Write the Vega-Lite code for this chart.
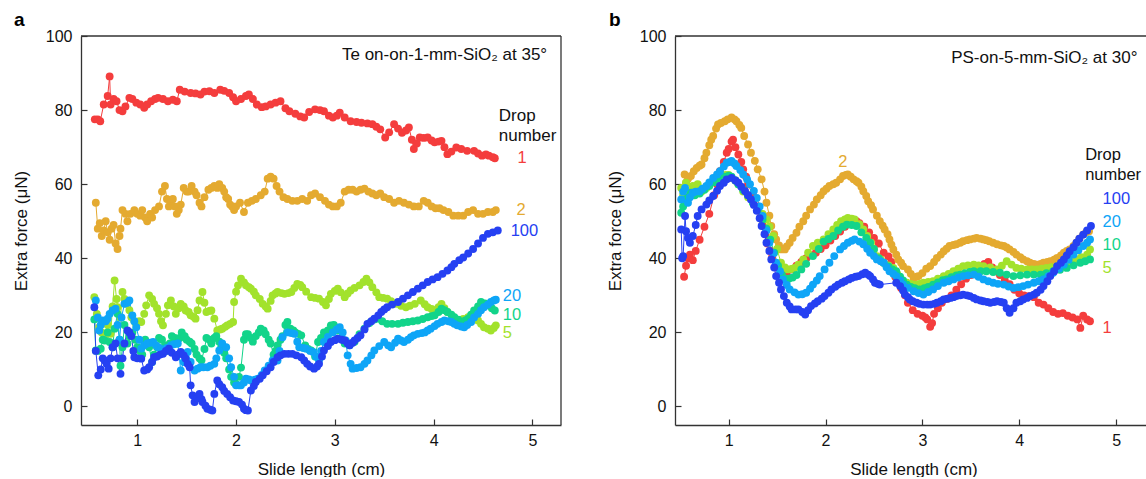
{
"$schema": "https://vega.github.io/schema/vega-lite/v6.json",
"padding": {"left": 12, "top": 11, "right": 0, "bottom": 0},
"spacing": 44,
"config": {
  "font": "Liberation Sans",
  "view": {"stroke": null},
  "axis": {"domainColor": "#333333", "domainWidth": 1.3, "tickColor": "#333333", "tickWidth": 1.2, "tickSize": -6, "labelFontSize": 16, "labelColor": "#111111", "titleFontSize": 17, "titleFontWeight": "normal", "titleColor": "#111111", "grid": false, "labelFlush": false, "labelOverlap": false},
  "axisX": {"labelPadding": 13, "titlePadding": 13},
  "axisY": {"labelPadding": 15, "titlePadding": 15},
  "title": {"anchor": "start", "frame": "group", "fontSize": 19, "fontWeight": "bold", "color": "#000000", "baseline": "alphabetic", "offset": -2}
},
"datasets": {
"a": [
{"s":"1","x":0.57,"y":77.5},{"s":"1","x":0.6,"y":77.5},{"s":"1","x":0.625,"y":77},{"s":"1","x":0.66,"y":81.5},{"s":"1","x":0.7,"y":83.8},{"s":"1","x":0.72,"y":89.1},{"s":"1","x":0.73,"y":81.5},{"s":"1","x":0.76,"y":83},{"s":"1","x":0.79,"y":82.4},{"s":"1","x":0.82,"y":80},{"s":"1","x":0.85,"y":79.7},{"s":"1","x":0.88,"y":81},{"s":"1","x":0.92,"y":83.3},{"s":"1","x":0.95,"y":83},{"s":"1","x":0.99,"y":82},{"s":"1","x":1.03,"y":81.5},{"s":"1","x":1.07,"y":80.6},{"s":"1","x":1.1,"y":81.5},{"s":"1","x":1.14,"y":82.4},{"s":"1","x":1.18,"y":83},{"s":"1","x":1.21,"y":83.3},{"s":"1","x":1.26,"y":83},{"s":"1","x":1.31,"y":82.4},{"s":"1","x":1.36,"y":82.8},{"s":"1","x":1.4,"y":82.4},{"s":"1","x":1.43,"y":85.5},{"s":"1","x":1.48,"y":85},{"s":"1","x":1.54,"y":84.6},{"s":"1","x":1.59,"y":84.5},{"s":"1","x":1.64,"y":84.2},{"s":"1","x":1.68,"y":85},{"s":"1","x":1.73,"y":85.1},{"s":"1","x":1.78,"y":84.6},{"s":"1","x":1.84,"y":85.5},{"s":"1","x":1.88,"y":85.2},{"s":"1","x":1.93,"y":84.6},{"s":"1","x":1.97,"y":83.5},{"s":"1","x":2.0,"y":82.4},{"s":"1","x":2.05,"y":83},{"s":"1","x":2.1,"y":83.8},{"s":"1","x":2.13,"y":84.2},{"s":"1","x":2.17,"y":83},{"s":"1","x":2.21,"y":81.5},{"s":"1","x":2.26,"y":80.8},{"s":"1","x":2.3,"y":81},{"s":"1","x":2.35,"y":81.5},{"s":"1","x":2.4,"y":82},{"s":"1","x":2.45,"y":82.4},{"s":"1","x":2.5,"y":80.5},{"s":"1","x":2.54,"y":79.7},{"s":"1","x":2.6,"y":79},{"s":"1","x":2.65,"y":78.3},{"s":"1","x":2.69,"y":78},{"s":"1","x":2.74,"y":79.5},{"s":"1","x":2.8,"y":80.2},{"s":"1","x":2.85,"y":80},{"s":"1","x":2.89,"y":79.7},{"s":"1","x":2.94,"y":78.5},{"s":"1","x":2.98,"y":78},{"s":"1","x":3.02,"y":78.5},{"s":"1","x":3.05,"y":79.3},{"s":"1","x":3.1,"y":78},{"s":"1","x":3.16,"y":77},{"s":"1","x":3.22,"y":76.8},{"s":"1","x":3.27,"y":76.6},{"s":"1","x":3.33,"y":76.4},{"s":"1","x":3.38,"y":76.2},{"s":"1","x":3.42,"y":75.5},{"s":"1","x":3.46,"y":74.8},{"s":"1","x":3.51,"y":72.6},{"s":"1","x":3.55,"y":74},{"s":"1","x":3.6,"y":76.2},{"s":"1","x":3.64,"y":75},{"s":"1","x":3.68,"y":73.9},{"s":"1","x":3.72,"y":74.5},{"s":"1","x":3.75,"y":75.3},{"s":"1","x":3.78,"y":72},{"s":"1","x":3.8,"y":69.5},{"s":"1","x":3.83,"y":71},{"s":"1","x":3.86,"y":72.6},{"s":"1","x":3.9,"y":72.5},{"s":"1","x":3.94,"y":72.6},{"s":"1","x":3.98,"y":71.8},{"s":"1","x":4.01,"y":71.3},{"s":"1","x":4.05,"y":71.5},{"s":"1","x":4.08,"y":71.7},{"s":"1","x":4.11,"y":70},{"s":"1","x":4.14,"y":68.1},{"s":"1","x":4.18,"y":68.8},{"s":"1","x":4.23,"y":69.9},{"s":"1","x":4.28,"y":69.5},{"s":"1","x":4.34,"y":69},{"s":"1","x":4.41,"y":69},{"s":"1","x":4.45,"y":68.3},{"s":"1","x":4.49,"y":67.7},{"s":"1","x":4.53,"y":68},{"s":"1","x":4.56,"y":67.7},{"s":"1","x":4.6,"y":67.3},{"s":"1","x":4.62,"y":67},
{"s":"2","x":0.58,"y":55},{"s":"2","x":0.6,"y":48},{"s":"2","x":0.62,"y":49.5},{"s":"2","x":0.64,"y":46},{"s":"2","x":0.66,"y":47.5},{"s":"2","x":0.68,"y":50},{"s":"2","x":0.7,"y":47},{"s":"2","x":0.72,"y":45},{"s":"2","x":0.74,"y":48},{"s":"2","x":0.76,"y":49},{"s":"2","x":0.78,"y":44},{"s":"2","x":0.8,"y":42.5},{"s":"2","x":0.82,"y":46},{"s":"2","x":0.83,"y":48},{"s":"2","x":0.85,"y":53},{"s":"2","x":0.88,"y":52},{"s":"2","x":0.9,"y":50},{"s":"2","x":0.93,"y":52},{"s":"2","x":0.97,"y":53},{"s":"2","x":1.0,"y":52},{"s":"2","x":1.03,"y":51.5},{"s":"2","x":1.05,"y":53},{"s":"2","x":1.08,"y":51},{"s":"2","x":1.1,"y":50},{"s":"2","x":1.13,"y":52},{"s":"2","x":1.15,"y":51},{"s":"2","x":1.18,"y":53},{"s":"2","x":1.22,"y":54},{"s":"2","x":1.25,"y":58},{"s":"2","x":1.28,"y":59.5},{"s":"2","x":1.3,"y":56},{"s":"2","x":1.32,"y":54},{"s":"2","x":1.34,"y":55.5},{"s":"2","x":1.36,"y":56},{"s":"2","x":1.38,"y":54},{"s":"2","x":1.4,"y":52},{"s":"2","x":1.42,"y":53},{"s":"2","x":1.44,"y":54.5},{"s":"2","x":1.47,"y":59},{"s":"2","x":1.5,"y":58},{"s":"2","x":1.52,"y":58},{"s":"2","x":1.55,"y":59.5},{"s":"2","x":1.58,"y":58},{"s":"2","x":1.6,"y":57},{"s":"2","x":1.63,"y":55},{"s":"2","x":1.65,"y":54},{"s":"2","x":1.68,"y":56.5},{"s":"2","x":1.72,"y":58.5},{"s":"2","x":1.75,"y":59},{"s":"2","x":1.78,"y":59.5},{"s":"2","x":1.81,"y":59},{"s":"2","x":1.83,"y":60},{"s":"2","x":1.86,"y":59},{"s":"2","x":1.88,"y":58},{"s":"2","x":1.9,"y":56.5},{"s":"2","x":1.92,"y":56},{"s":"2","x":1.94,"y":54.5},{"s":"2","x":1.96,"y":54},{"s":"2","x":1.98,"y":53},{"s":"2","x":2.0,"y":54},{"s":"2","x":2.04,"y":55},{"s":"2","x":2.08,"y":52.5},{"s":"2","x":2.12,"y":55},{"s":"2","x":2.16,"y":55.5},{"s":"2","x":2.2,"y":56},{"s":"2","x":2.25,"y":57},{"s":"2","x":2.29,"y":58},{"s":"2","x":2.32,"y":61.5},{"s":"2","x":2.35,"y":62},{"s":"2","x":2.38,"y":61.5},{"s":"2","x":2.41,"y":59.5},{"s":"2","x":2.44,"y":58},{"s":"2","x":2.48,"y":56.5},{"s":"2","x":2.52,"y":56},{"s":"2","x":2.57,"y":55.5},{"s":"2","x":2.62,"y":55.5},{"s":"2","x":2.67,"y":56},{"s":"2","x":2.72,"y":55.5},{"s":"2","x":2.76,"y":57},{"s":"2","x":2.8,"y":57.5},{"s":"2","x":2.85,"y":56.5},{"s":"2","x":2.9,"y":55.5},{"s":"2","x":2.94,"y":54.5},{"s":"2","x":2.98,"y":54},{"s":"2","x":3.02,"y":54},{"s":"2","x":3.06,"y":55},{"s":"2","x":3.1,"y":58},{"s":"2","x":3.14,"y":58.5},{"s":"2","x":3.18,"y":58.5},{"s":"2","x":3.22,"y":58},{"s":"2","x":3.26,"y":58.5},{"s":"2","x":3.3,"y":58.8},{"s":"2","x":3.34,"y":58},{"s":"2","x":3.38,"y":57.5},{"s":"2","x":3.42,"y":57},{"s":"2","x":3.46,"y":57.5},{"s":"2","x":3.5,"y":56.5},{"s":"2","x":3.55,"y":56},{"s":"2","x":3.6,"y":55},{"s":"2","x":3.65,"y":55.5},{"s":"2","x":3.7,"y":55},{"s":"2","x":3.75,"y":54.5},{"s":"2","x":3.8,"y":54},{"s":"2","x":3.85,"y":54},{"s":"2","x":3.9,"y":55.5},{"s":"2","x":3.94,"y":55},{"s":"2","x":3.98,"y":54},{"s":"2","x":4.02,"y":53.5},{"s":"2","x":4.06,"y":53.5},{"s":"2","x":4.1,"y":53},{"s":"2","x":4.15,"y":52.5},{"s":"2","x":4.2,"y":51.5},{"s":"2","x":4.25,"y":51.5},{"s":"2","x":4.3,"y":51.5},{"s":"2","x":4.35,"y":52.5},{"s":"2","x":4.4,"y":53},{"s":"2","x":4.45,"y":52},{"s":"2","x":4.5,"y":52},{"s":"2","x":4.55,"y":52.5},{"s":"2","x":4.6,"y":52.5},{"s":"2","x":4.63,"y":53},
{"s":"5","x":0.565,"y":29.5},{"s":"5","x":0.59,"y":25},{"s":"5","x":0.615,"y":21.4},{"s":"5","x":0.64,"y":20},{"s":"5","x":0.67,"y":19.2},{"s":"5","x":0.7,"y":22},{"s":"5","x":0.73,"y":19.6},{"s":"5","x":0.75,"y":27},{"s":"5","x":0.77,"y":34},{"s":"5","x":0.79,"y":29},{"s":"5","x":0.8,"y":26.8},{"s":"5","x":0.83,"y":24},{"s":"5","x":0.85,"y":30.9},{"s":"5","x":0.87,"y":29},{"s":"5","x":0.89,"y":27.7},{"s":"5","x":0.92,"y":26},{"s":"5","x":0.94,"y":24.1},{"s":"5","x":0.97,"y":23},{"s":"5","x":0.99,"y":21.9},{"s":"5","x":1.02,"y":23},{"s":"5","x":1.04,"y":22.8},{"s":"5","x":1.07,"y":25},{"s":"5","x":1.09,"y":27.3},{"s":"5","x":1.12,"y":30},{"s":"5","x":1.15,"y":29},{"s":"5","x":1.17,"y":27.7},{"s":"5","x":1.2,"y":26.5},{"s":"5","x":1.22,"y":25},{"s":"5","x":1.24,"y":23},{"s":"5","x":1.26,"y":21.9},{"s":"5","x":1.29,"y":25},{"s":"5","x":1.31,"y":27.3},{"s":"5","x":1.34,"y":28.6},{"s":"5","x":1.37,"y":27},{"s":"5","x":1.39,"y":25},{"s":"5","x":1.42,"y":26.5},{"s":"5","x":1.44,"y":27.7},{"s":"5","x":1.47,"y":27},{"s":"5","x":1.49,"y":25.9},{"s":"5","x":1.52,"y":25.5},{"s":"5","x":1.54,"y":24.6},{"s":"5","x":1.57,"y":24.2},{"s":"5","x":1.59,"y":23.7},{"s":"5","x":1.61,"y":26},{"s":"5","x":1.63,"y":28.6},{"s":"5","x":1.66,"y":30.9},{"s":"5","x":1.68,"y":28},{"s":"5","x":1.7,"y":25.5},{"s":"5","x":1.73,"y":25.8},{"s":"5","x":1.75,"y":25.9},{"s":"5","x":1.78,"y":23.7},{"s":"5","x":1.81,"y":20.5},{"s":"5","x":1.84,"y":20.8},{"s":"5","x":1.86,"y":21},{"s":"5","x":1.89,"y":21.5},{"s":"5","x":1.91,"y":21.9},{"s":"5","x":1.94,"y":22.3},{"s":"5","x":1.97,"y":22.8},{"s":"5","x":1.98,"y":28.2},{"s":"5","x":2.0,"y":31},{"s":"5","x":2.02,"y":32.7},{"s":"5","x":2.05,"y":34.5},{"s":"5","x":2.08,"y":33.5},{"s":"5","x":2.1,"y":32.7},{"s":"5","x":2.13,"y":32.2},{"s":"5","x":2.15,"y":31.8},{"s":"5","x":2.18,"y":31},{"s":"5","x":2.2,"y":30},{"s":"5","x":2.24,"y":29},{"s":"5","x":2.27,"y":27.7},{"s":"5","x":2.3,"y":27},{"s":"5","x":2.32,"y":26.4},{"s":"5","x":2.35,"y":28.5},{"s":"5","x":2.37,"y":30},{"s":"5","x":2.4,"y":30.5},{"s":"5","x":2.42,"y":30.9},{"s":"5","x":2.46,"y":30.6},{"s":"5","x":2.49,"y":30.4},{"s":"5","x":2.53,"y":30.6},{"s":"5","x":2.56,"y":30.9},{"s":"5","x":2.59,"y":32},{"s":"5","x":2.62,"y":33.1},{"s":"5","x":2.65,"y":32.8},{"s":"5","x":2.67,"y":32.2},{"s":"5","x":2.71,"y":31},{"s":"5","x":2.76,"y":29.5},{"s":"5","x":2.8,"y":29.3},{"s":"5","x":2.84,"y":29.1},{"s":"5","x":2.88,"y":28.2},{"s":"5","x":2.91,"y":27.3},{"s":"5","x":2.94,"y":29},{"s":"5","x":2.96,"y":30.4},{"s":"5","x":3.0,"y":31.2},{"s":"5","x":3.03,"y":31.8},{"s":"5","x":3.06,"y":30.8},{"s":"5","x":3.1,"y":29.5},{"s":"5","x":3.13,"y":30.5},{"s":"5","x":3.16,"y":31.3},{"s":"5","x":3.2,"y":32},{"s":"5","x":3.25,"y":32.7},{"s":"5","x":3.29,"y":33.6},{"s":"5","x":3.32,"y":34.5},{"s":"5","x":3.35,"y":33.5},{"s":"5","x":3.38,"y":32.2},{"s":"5","x":3.42,"y":30.8},{"s":"5","x":3.45,"y":29.5},{"s":"5","x":3.49,"y":29.3},{"s":"5","x":3.53,"y":29.1},{"s":"5","x":3.57,"y":28.4},{"s":"5","x":3.62,"y":27.7},{"s":"5","x":3.67,"y":27.2},{"s":"5","x":3.72,"y":26.8},{"s":"5","x":3.76,"y":27.2},{"s":"5","x":3.81,"y":27.7},{"s":"5","x":3.87,"y":28.6},{"s":"5","x":3.91,"y":27.6},{"s":"5","x":3.94,"y":26.8},{"s":"5","x":3.98,"y":26.3},{"s":"5","x":4.01,"y":25.9},{"s":"5","x":4.05,"y":26.8},{"s":"5","x":4.08,"y":27.7},{"s":"5","x":4.11,"y":26.5},{"s":"5","x":4.14,"y":25.5},{"s":"5","x":4.19,"y":24.3},{"s":"5","x":4.24,"y":23.2},{"s":"5","x":4.3,"y":23.6},{"s":"5","x":4.35,"y":24.1},{"s":"5","x":4.4,"y":23.6},{"s":"5","x":4.45,"y":23.2},{"s":"5","x":4.48,"y":22.3},{"s":"5","x":4.51,"y":21.4},{"s":"5","x":4.55,"y":21},{"s":"5","x":4.58,"y":20.5},{"s":"5","x":4.61,"y":21.2},{"s":"5","x":4.63,"y":21.9},
{"s":"10","x":0.565,"y":23.5},{"s":"10","x":0.58,"y":15.1},{"s":"10","x":0.6,"y":15},{"s":"10","x":0.63,"y":15.6},{"s":"10","x":0.65,"y":18},{"s":"10","x":0.67,"y":17.8},{"s":"10","x":0.7,"y":20},{"s":"10","x":0.72,"y":17.4},{"s":"10","x":0.75,"y":16},{"s":"10","x":0.77,"y":21},{"s":"10","x":0.8,"y":25},{"s":"10","x":0.82,"y":18},{"s":"10","x":0.83,"y":11},{"s":"10","x":0.85,"y":16},{"s":"10","x":0.87,"y":22},{"s":"10","x":0.9,"y":17},{"s":"10","x":0.92,"y":19},{"s":"10","x":0.95,"y":20},{"s":"10","x":0.98,"y":18},{"s":"10","x":1.0,"y":16},{"s":"10","x":1.03,"y":15},{"s":"10","x":1.05,"y":14},{"s":"10","x":1.08,"y":18},{"s":"10","x":1.1,"y":17},{"s":"10","x":1.12,"y":16},{"s":"10","x":1.15,"y":12},{"s":"10","x":1.17,"y":14},{"s":"10","x":1.2,"y":16},{"s":"10","x":1.22,"y":18.5},{"s":"10","x":1.25,"y":18},{"s":"10","x":1.28,"y":16.5},{"s":"10","x":1.3,"y":15},{"s":"10","x":1.33,"y":17},{"s":"10","x":1.35,"y":19},{"s":"10","x":1.38,"y":18.5},{"s":"10","x":1.4,"y":17},{"s":"10","x":1.43,"y":18.5},{"s":"10","x":1.45,"y":20},{"s":"10","x":1.48,"y":19},{"s":"10","x":1.5,"y":18},{"s":"10","x":1.53,"y":17.5},{"s":"10","x":1.55,"y":17},{"s":"10","x":1.58,"y":15.5},{"s":"10","x":1.6,"y":14},{"s":"10","x":1.63,"y":13},{"s":"10","x":1.65,"y":12.5},{"s":"10","x":1.68,"y":15.5},{"s":"10","x":1.7,"y":18.5},{"s":"10","x":1.73,"y":18},{"s":"10","x":1.75,"y":17},{"s":"10","x":1.78,"y":18.5},{"s":"10","x":1.8,"y":19},{"s":"10","x":1.83,"y":17.5},{"s":"10","x":1.85,"y":16},{"s":"10","x":1.88,"y":14.5},{"s":"10","x":1.9,"y":13},{"s":"10","x":1.93,"y":10},{"s":"10","x":1.95,"y":8},{"s":"10","x":1.98,"y":6.5},{"s":"10","x":2.0,"y":6},{"s":"10","x":2.03,"y":8},{"s":"10","x":2.05,"y":10.5},{"s":"10","x":2.08,"y":18},{"s":"10","x":2.1,"y":19.5},{"s":"10","x":2.12,"y":19.5},{"s":"10","x":2.15,"y":18.5},{"s":"10","x":2.17,"y":17.5},{"s":"10","x":2.2,"y":19},{"s":"10","x":2.23,"y":20},{"s":"10","x":2.25,"y":21},{"s":"10","x":2.28,"y":20.5},{"s":"10","x":2.3,"y":19.5},{"s":"10","x":2.33,"y":18},{"s":"10","x":2.35,"y":17},{"s":"10","x":2.38,"y":14},{"s":"10","x":2.4,"y":15},{"s":"10","x":2.42,"y":16.5},{"s":"10","x":2.45,"y":18},{"s":"10","x":2.47,"y":19},{"s":"10","x":2.5,"y":22},{"s":"10","x":2.52,"y":22.8},{"s":"10","x":2.55,"y":21},{"s":"10","x":2.58,"y":20.5},{"s":"10","x":2.6,"y":20},{"s":"10","x":2.63,"y":19.6},{"s":"10","x":2.66,"y":19.2},{"s":"10","x":2.7,"y":16.5},{"s":"10","x":2.73,"y":15.5},{"s":"10","x":2.76,"y":15.1},{"s":"10","x":2.8,"y":13.5},{"s":"10","x":2.83,"y":17.4},{"s":"10","x":2.86,"y":18.5},{"s":"10","x":2.89,"y":20},{"s":"10","x":2.93,"y":20.5},{"s":"10","x":2.96,"y":21.9},{"s":"10","x":2.99,"y":22},{"s":"10","x":3.03,"y":20.5},{"s":"10","x":3.07,"y":18.5},{"s":"10","x":3.1,"y":17},{"s":"10","x":3.15,"y":16.5},{"s":"10","x":3.2,"y":17.5},{"s":"10","x":3.25,"y":19.5},{"s":"10","x":3.3,"y":21},{"s":"10","x":3.35,"y":22.5},{"s":"10","x":3.4,"y":23.5},{"s":"10","x":3.43,"y":23.7},{"s":"10","x":3.48,"y":23},{"s":"10","x":3.53,"y":22.3},{"s":"10","x":3.58,"y":22.3},{"s":"10","x":3.64,"y":22.3},{"s":"10","x":3.69,"y":22.6},{"s":"10","x":3.74,"y":22.8},{"s":"10","x":3.79,"y":23},{"s":"10","x":3.84,"y":23.2},{"s":"10","x":3.89,"y":23.6},{"s":"10","x":3.94,"y":24.1},{"s":"10","x":3.98,"y":24.4},{"s":"10","x":4.01,"y":24.6},{"s":"10","x":4.05,"y":25.5},{"s":"10","x":4.08,"y":26.4},{"s":"10","x":4.11,"y":26},{"s":"10","x":4.14,"y":25.5},{"s":"10","x":4.18,"y":24.8},{"s":"10","x":4.21,"y":24.1},{"s":"10","x":4.25,"y":23.4},{"s":"10","x":4.28,"y":22.8},{"s":"10","x":4.32,"y":23.2},{"s":"10","x":4.35,"y":23.7},{"s":"10","x":4.38,"y":24.8},{"s":"10","x":4.41,"y":25.9},{"s":"10","x":4.45,"y":27},{"s":"10","x":4.48,"y":28.2},{"s":"10","x":4.52,"y":27.8},{"s":"10","x":4.55,"y":27.3},{"s":"10","x":4.59,"y":26.5},{"s":"10","x":4.62,"y":25.9},
{"s":"20","x":0.58,"y":28.6},{"s":"20","x":0.6,"y":24},{"s":"20","x":0.615,"y":20.5},{"s":"20","x":0.63,"y":22},{"s":"20","x":0.65,"y":23.2},{"s":"20","x":0.68,"y":23},{"s":"20","x":0.7,"y":23.7},{"s":"20","x":0.72,"y":25},{"s":"20","x":0.75,"y":25.9},{"s":"20","x":0.78,"y":26.4},{"s":"20","x":0.8,"y":22},{"s":"20","x":0.82,"y":18},{"s":"20","x":0.84,"y":24},{"s":"20","x":0.87,"y":27.7},{"s":"20","x":0.9,"y":28},{"s":"20","x":0.92,"y":28.6},{"s":"20","x":0.95,"y":24.6},{"s":"20","x":0.97,"y":23},{"s":"20","x":0.99,"y":21.4},{"s":"20","x":1.02,"y":18},{"s":"20","x":1.04,"y":15.6},{"s":"20","x":1.07,"y":16.5},{"s":"20","x":1.1,"y":17},{"s":"20","x":1.13,"y":17.2},{"s":"20","x":1.16,"y":17.4},{"s":"20","x":1.19,"y":16.5},{"s":"20","x":1.21,"y":16},{"s":"20","x":1.24,"y":15.5},{"s":"20","x":1.27,"y":15.1},{"s":"20","x":1.3,"y":15.8},{"s":"20","x":1.34,"y":16.5},{"s":"20","x":1.37,"y":16.8},{"s":"20","x":1.41,"y":17},{"s":"20","x":1.44,"y":9.7},{"s":"20","x":1.47,"y":12},{"s":"20","x":1.51,"y":14.7},{"s":"20","x":1.54,"y":12},{"s":"20","x":1.58,"y":9.7},{"s":"20","x":1.61,"y":10.2},{"s":"20","x":1.64,"y":10.6},{"s":"20","x":1.67,"y":10.6},{"s":"20","x":1.71,"y":10.6},{"s":"20","x":1.74,"y":11},{"s":"20","x":1.78,"y":11.5},{"s":"20","x":1.8,"y":13},{"s":"20","x":1.83,"y":15.1},{"s":"20","x":1.86,"y":17},{"s":"20","x":1.9,"y":16},{"s":"20","x":1.93,"y":13},{"s":"20","x":1.95,"y":10.6},{"s":"20","x":1.98,"y":8},{"s":"20","x":2.0,"y":5.7},{"s":"20","x":2.03,"y":5.7},{"s":"20","x":2.05,"y":5.7},{"s":"20","x":2.08,"y":6.5},{"s":"20","x":2.1,"y":7.5},{"s":"20","x":2.13,"y":7.3},{"s":"20","x":2.15,"y":7},{"s":"20","x":2.19,"y":7.2},{"s":"20","x":2.22,"y":7.5},{"s":"20","x":2.26,"y":8.5},{"s":"20","x":2.29,"y":9.7},{"s":"20","x":2.33,"y":11},{"s":"20","x":2.37,"y":12.4},{"s":"20","x":2.42,"y":12.4},{"s":"20","x":2.44,"y":15},{"s":"20","x":2.47,"y":18.7},{"s":"20","x":2.52,"y":20},{"s":"20","x":2.56,"y":19.8},{"s":"20","x":2.59,"y":19.6},{"s":"20","x":2.62,"y":17.5},{"s":"20","x":2.64,"y":16},{"s":"20","x":2.68,"y":15.8},{"s":"20","x":2.71,"y":15.6},{"s":"20","x":2.75,"y":15},{"s":"20","x":2.78,"y":14.7},{"s":"20","x":2.81,"y":13.5},{"s":"20","x":2.84,"y":12.4},{"s":"20","x":2.86,"y":15},{"s":"20","x":2.89,"y":17.4},{"s":"20","x":2.93,"y":18.8},{"s":"20","x":2.98,"y":20},{"s":"20","x":3.02,"y":20.8},{"s":"20","x":3.05,"y":21.4},{"s":"20","x":3.08,"y":20},{"s":"20","x":3.11,"y":17.8},{"s":"20","x":3.13,"y":13.8},{"s":"20","x":3.16,"y":11.5},{"s":"20","x":3.18,"y":10.2},{"s":"20","x":3.22,"y":10.4},{"s":"20","x":3.26,"y":10.6},{"s":"20","x":3.3,"y":11.5},{"s":"20","x":3.33,"y":12.4},{"s":"20","x":3.37,"y":13.8},{"s":"20","x":3.4,"y":15.1},{"s":"20","x":3.45,"y":16.3},{"s":"20","x":3.5,"y":17.4},{"s":"20","x":3.54,"y":16.5},{"s":"20","x":3.57,"y":16},{"s":"20","x":3.61,"y":17.2},{"s":"20","x":3.64,"y":18.3},{"s":"20","x":3.67,"y":17.8},{"s":"20","x":3.7,"y":17.4},{"s":"20","x":3.74,"y":18},{"s":"20","x":3.77,"y":18.7},{"s":"20","x":3.8,"y":19.2},{"s":"20","x":3.84,"y":19.6},{"s":"20","x":3.88,"y":19.8},{"s":"20","x":3.91,"y":20},{"s":"20","x":3.94,"y":20.5},{"s":"20","x":3.97,"y":21},{"s":"20","x":4.01,"y":21.7},{"s":"20","x":4.04,"y":22.3},{"s":"20","x":4.08,"y":22.8},{"s":"20","x":4.11,"y":23.2},{"s":"20","x":4.15,"y":23},{"s":"20","x":4.18,"y":22.8},{"s":"20","x":4.21,"y":22.3},{"s":"20","x":4.24,"y":21.9},{"s":"20","x":4.28,"y":21.6},{"s":"20","x":4.31,"y":21.4},{"s":"20","x":4.34,"y":22},{"s":"20","x":4.38,"y":22.8},{"s":"20","x":4.41,"y":24},{"s":"20","x":4.45,"y":25},{"s":"20","x":4.48,"y":26},{"s":"20","x":4.51,"y":26.8},{"s":"20","x":4.55,"y":27.5},{"s":"20","x":4.58,"y":28.2},{"s":"20","x":4.61,"y":28.6},{"s":"20","x":4.63,"y":28.8},
{"s":"100","x":0.565,"y":26.8},{"s":"100","x":0.58,"y":15},{"s":"100","x":0.605,"y":8.4},{"s":"100","x":0.63,"y":10},{"s":"100","x":0.65,"y":13},{"s":"100","x":0.67,"y":12.4},{"s":"100","x":0.69,"y":11.5},{"s":"100","x":0.71,"y":10.2},{"s":"100","x":0.73,"y":13},{"s":"100","x":0.75,"y":16},{"s":"100","x":0.78,"y":17},{"s":"100","x":0.8,"y":13},{"s":"100","x":0.83,"y":8.8},{"s":"100","x":0.85,"y":13},{"s":"100","x":0.87,"y":17},{"s":"100","x":0.9,"y":20.5},{"s":"100","x":0.92,"y":20},{"s":"100","x":0.94,"y":19},{"s":"100","x":0.96,"y":15},{"s":"100","x":0.97,"y":13.3},{"s":"100","x":1.0,"y":13},{"s":"100","x":1.04,"y":12.9},{"s":"100","x":1.07,"y":9.7},{"s":"100","x":1.1,"y":10},{"s":"100","x":1.12,"y":10.6},{"s":"100","x":1.15,"y":12},{"s":"100","x":1.17,"y":13.3},{"s":"100","x":1.2,"y":13.5},{"s":"100","x":1.23,"y":14},{"s":"100","x":1.26,"y":14.2},{"s":"100","x":1.29,"y":15},{"s":"100","x":1.32,"y":15.6},{"s":"100","x":1.35,"y":14.5},{"s":"100","x":1.39,"y":13.3},{"s":"100","x":1.41,"y":14},{"s":"100","x":1.44,"y":14.7},{"s":"100","x":1.47,"y":13.8},{"s":"100","x":1.49,"y":12.9},{"s":"100","x":1.51,"y":11.5},{"s":"100","x":1.53,"y":10.6},{"s":"100","x":1.54,"y":5.7},{"s":"100","x":1.56,"y":3},{"s":"100","x":1.58,"y":1.2},{"s":"100","x":1.61,"y":2.2},{"s":"100","x":1.63,"y":3.4},{"s":"100","x":1.65,"y":2},{"s":"100","x":1.66,"y":1.2},{"s":"100","x":1.69,"y":0.2},{"s":"100","x":1.71,"y":-0.6},{"s":"100","x":1.74,"y":-0.9},{"s":"100","x":1.76,"y":-1.1},{"s":"100","x":1.78,"y":3.4},{"s":"100","x":1.81,"y":7},{"s":"100","x":1.83,"y":6},{"s":"100","x":1.86,"y":5.2},{"s":"100","x":1.88,"y":4.2},{"s":"100","x":1.91,"y":3.4},{"s":"100","x":1.94,"y":2.5},{"s":"100","x":1.97,"y":1.6},{"s":"100","x":2.0,"y":1.4},{"s":"100","x":2.03,"y":1.2},{"s":"100","x":2.06,"y":0.5},{"s":"100","x":2.08,"y":-0.6},{"s":"100","x":2.1,"y":-1},{"s":"100","x":2.12,"y":-1.1},{"s":"100","x":2.15,"y":4.3},{"s":"100","x":2.18,"y":5.5},{"s":"100","x":2.2,"y":6.6},{"s":"100","x":2.24,"y":7.5},{"s":"100","x":2.27,"y":8.4},{"s":"100","x":2.31,"y":9.5},{"s":"100","x":2.35,"y":10.6},{"s":"100","x":2.38,"y":12},{"s":"100","x":2.42,"y":13.3},{"s":"100","x":2.45,"y":13.8},{"s":"100","x":2.49,"y":14.2},{"s":"100","x":2.53,"y":14.2},{"s":"100","x":2.57,"y":14.2},{"s":"100","x":2.61,"y":13.8},{"s":"100","x":2.66,"y":13.3},{"s":"100","x":2.69,"y":12.4},{"s":"100","x":2.72,"y":11.5},{"s":"100","x":2.75,"y":10.8},{"s":"100","x":2.79,"y":10.2},{"s":"100","x":2.82,"y":10.8},{"s":"100","x":2.84,"y":11.5},{"s":"100","x":2.87,"y":13.5},{"s":"100","x":2.89,"y":15.1},{"s":"100","x":2.93,"y":16.3},{"s":"100","x":2.96,"y":17.4},{"s":"100","x":3.0,"y":17.9},{"s":"100","x":3.03,"y":18.3},{"s":"100","x":3.07,"y":18},{"s":"100","x":3.1,"y":17.8},{"s":"100","x":3.13,"y":17},{"s":"100","x":3.15,"y":16.5},{"s":"100","x":3.18,"y":17.2},{"s":"100","x":3.2,"y":17.8},{"s":"100","x":3.23,"y":18.5},{"s":"100","x":3.26,"y":19.2},{"s":"100","x":3.3,"y":20.8},{"s":"100","x":3.33,"y":22.3},{"s":"100","x":3.37,"y":23},{"s":"100","x":3.4,"y":23.7},{"s":"100","x":3.44,"y":24.6},{"s":"100","x":3.47,"y":25.5},{"s":"100","x":3.5,"y":26.2},{"s":"100","x":3.53,"y":26.8},{"s":"100","x":3.58,"y":27.5},{"s":"100","x":3.64,"y":28.2},{"s":"100","x":3.69,"y":29.1},{"s":"100","x":3.74,"y":30},{"s":"100","x":3.79,"y":30.9},{"s":"100","x":3.84,"y":31.8},{"s":"100","x":3.89,"y":32.7},{"s":"100","x":3.94,"y":33.6},{"s":"100","x":3.99,"y":34.3},{"s":"100","x":4.04,"y":34.9},{"s":"100","x":4.09,"y":35.8},{"s":"100","x":4.14,"y":36.7},{"s":"100","x":4.18,"y":37.6},{"s":"100","x":4.21,"y":38.5},{"s":"100","x":4.26,"y":39.5},{"s":"100","x":4.3,"y":40.2},{"s":"100","x":4.35,"y":41.3},{"s":"100","x":4.4,"y":42.5},{"s":"100","x":4.45,"y":44},{"s":"100","x":4.5,"y":45.5},{"s":"100","x":4.55,"y":46.6},{"s":"100","x":4.6,"y":47},{"s":"100","x":4.65,"y":47.5}
],
"b": [
{"s":"1","x":0.54,"y":35},{"s":"1","x":0.56,"y":38},{"s":"1","x":0.58,"y":40},{"s":"1","x":0.6,"y":41},{"s":"1","x":0.63,"y":39.5},{"s":"1","x":0.66,"y":42},{"s":"1","x":0.7,"y":45},{"s":"1","x":0.75,"y":48.5},{"s":"1","x":0.8,"y":52},{"s":"1","x":0.85,"y":57},{"s":"1","x":0.88,"y":60},{"s":"1","x":0.91,"y":63.5},{"s":"1","x":0.95,"y":66},{"s":"1","x":0.98,"y":68.5},{"s":"1","x":1.0,"y":69.5},{"s":"1","x":1.03,"y":71.5},{"s":"1","x":1.045,"y":72},{"s":"1","x":1.07,"y":70},{"s":"1","x":1.1,"y":68},{"s":"1","x":1.13,"y":66},{"s":"1","x":1.15,"y":64},{"s":"1","x":1.18,"y":62},{"s":"1","x":1.2,"y":60},{"s":"1","x":1.25,"y":57},{"s":"1","x":1.3,"y":54},{"s":"1","x":1.33,"y":51},{"s":"1","x":1.35,"y":49},{"s":"1","x":1.38,"y":46.5},{"s":"1","x":1.4,"y":44},{"s":"1","x":1.43,"y":42},{"s":"1","x":1.45,"y":40.5},{"s":"1","x":1.5,"y":37.5},{"s":"1","x":1.55,"y":36},{"s":"1","x":1.6,"y":35.5},{"s":"1","x":1.65,"y":37},{"s":"1","x":1.7,"y":38},{"s":"1","x":1.75,"y":39},{"s":"1","x":1.8,"y":40},{"s":"1","x":1.85,"y":40.8},{"s":"1","x":1.9,"y":41.5},{"s":"1","x":1.95,"y":42.5},{"s":"1","x":2.0,"y":43.5},{"s":"1","x":2.05,"y":44.8},{"s":"1","x":2.1,"y":46},{"s":"1","x":2.15,"y":47.2},{"s":"1","x":2.2,"y":48.5},{"s":"1","x":2.25,"y":49.5},{"s":"1","x":2.28,"y":50},{"s":"1","x":2.32,"y":50},{"s":"1","x":2.35,"y":49.5},{"s":"1","x":2.4,"y":48.5},{"s":"1","x":2.45,"y":47},{"s":"1","x":2.5,"y":45.5},{"s":"1","x":2.55,"y":44},{"s":"1","x":2.6,"y":41.5},{"s":"1","x":2.65,"y":40.5},{"s":"1","x":2.68,"y":39},{"s":"1","x":2.72,"y":35},{"s":"1","x":2.75,"y":33.5},{"s":"1","x":2.78,"y":32},{"s":"1","x":2.82,"y":30},{"s":"1","x":2.85,"y":28},{"s":"1","x":2.9,"y":26},{"s":"1","x":2.95,"y":25},{"s":"1","x":3.0,"y":24.5},{"s":"1","x":3.03,"y":24},{"s":"1","x":3.05,"y":23.5},{"s":"1","x":3.08,"y":21.5},{"s":"1","x":3.1,"y":22.5},{"s":"1","x":3.12,"y":25},{"s":"1","x":3.16,"y":26.5},{"s":"1","x":3.2,"y":28},{"s":"1","x":3.25,"y":29},{"s":"1","x":3.3,"y":30},{"s":"1","x":3.35,"y":31.5},{"s":"1","x":3.4,"y":33},{"s":"1","x":3.45,"y":34.5},{"s":"1","x":3.5,"y":35.5},{"s":"1","x":3.55,"y":36.5},{"s":"1","x":3.6,"y":37.5},{"s":"1","x":3.64,"y":38.5},{"s":"1","x":3.68,"y":39},{"s":"1","x":3.72,"y":37.5},{"s":"1","x":3.75,"y":36.5},{"s":"1","x":3.8,"y":35.5},{"s":"1","x":3.85,"y":34},{"s":"1","x":3.9,"y":33},{"s":"1","x":3.95,"y":31.5},{"s":"1","x":4.0,"y":30.5},{"s":"1","x":4.05,"y":30},{"s":"1","x":4.1,"y":29.8},{"s":"1","x":4.15,"y":29.5},{"s":"1","x":4.2,"y":28},{"s":"1","x":4.25,"y":27.5},{"s":"1","x":4.3,"y":26.5},{"s":"1","x":4.35,"y":25.5},{"s":"1","x":4.4,"y":25},{"s":"1","x":4.45,"y":25.2},{"s":"1","x":4.5,"y":24.5},{"s":"1","x":4.55,"y":24},{"s":"1","x":4.6,"y":23.5},{"s":"1","x":4.63,"y":21.2},{"s":"1","x":4.66,"y":24.5},{"s":"1","x":4.7,"y":23.5},{"s":"1","x":4.73,"y":23},
{"s":"2","x":0.545,"y":62.6},{"s":"2","x":0.56,"y":60.4},{"s":"2","x":0.58,"y":61.5},{"s":"2","x":0.61,"y":62.2},{"s":"2","x":0.64,"y":63.5},{"s":"2","x":0.67,"y":64.4},{"s":"2","x":0.7,"y":65},{"s":"2","x":0.72,"y":65.3},{"s":"2","x":0.75,"y":67},{"s":"2","x":0.77,"y":68.5},{"s":"2","x":0.8,"y":70.5},{"s":"2","x":0.82,"y":72},{"s":"2","x":0.84,"y":73},{"s":"2","x":0.87,"y":75},{"s":"2","x":0.89,"y":76.1},{"s":"2","x":0.92,"y":76.5},{"s":"2","x":0.96,"y":77},{"s":"2","x":0.99,"y":77.5},{"s":"2","x":1.03,"y":78},{"s":"2","x":1.06,"y":77.5},{"s":"2","x":1.08,"y":77},{"s":"2","x":1.11,"y":76},{"s":"2","x":1.13,"y":75.2},{"s":"2","x":1.16,"y":73},{"s":"2","x":1.2,"y":70.7},{"s":"2","x":1.23,"y":68.5},{"s":"2","x":1.27,"y":66.3},{"s":"2","x":1.3,"y":64},{"s":"2","x":1.34,"y":61.3},{"s":"2","x":1.37,"y":58},{"s":"2","x":1.39,"y":55},{"s":"2","x":1.42,"y":51.5},{"s":"2","x":1.44,"y":48.7},{"s":"2","x":1.47,"y":46.5},{"s":"2","x":1.49,"y":45.1},{"s":"2","x":1.52,"y":43.5},{"s":"2","x":1.54,"y":42.4},{"s":"2","x":1.58,"y":42.4},{"s":"2","x":1.6,"y":43.2},{"s":"2","x":1.63,"y":44.2},{"s":"2","x":1.66,"y":45.5},{"s":"2","x":1.7,"y":46.9},{"s":"2","x":1.73,"y":48.5},{"s":"2","x":1.77,"y":50},{"s":"2","x":1.8,"y":51.5},{"s":"2","x":1.84,"y":53.2},{"s":"2","x":1.88,"y":54.5},{"s":"2","x":1.91,"y":55.9},{"s":"2","x":1.95,"y":57},{"s":"2","x":1.98,"y":58.1},{"s":"2","x":2.01,"y":58.8},{"s":"2","x":2.04,"y":59.5},{"s":"2","x":2.08,"y":60},{"s":"2","x":2.11,"y":60.4},{"s":"2","x":2.15,"y":61.3},{"s":"2","x":2.18,"y":62.2},{"s":"2","x":2.21,"y":62.5},{"s":"2","x":2.23,"y":62.6},{"s":"2","x":2.26,"y":62},{"s":"2","x":2.29,"y":61.3},{"s":"2","x":2.32,"y":60.8},{"s":"2","x":2.34,"y":60.4},{"s":"2","x":2.37,"y":59.3},{"s":"2","x":2.39,"y":58.1},{"s":"2","x":2.42,"y":56.8},{"s":"2","x":2.44,"y":55.4},{"s":"2","x":2.47,"y":54.3},{"s":"2","x":2.49,"y":53.2},{"s":"2","x":2.53,"y":51.5},{"s":"2","x":2.56,"y":50},{"s":"2","x":2.59,"y":48.8},{"s":"2","x":2.61,"y":47.8},{"s":"2","x":2.64,"y":46.5},{"s":"2","x":2.66,"y":45.1},{"s":"2","x":2.68,"y":43.7},{"s":"2","x":2.7,"y":42.4},{"s":"2","x":2.73,"y":41},{"s":"2","x":2.75,"y":39.7},{"s":"2","x":2.78,"y":38.8},{"s":"2","x":2.8,"y":37.9},{"s":"2","x":2.85,"y":37},{"s":"2","x":2.88,"y":35.8},{"s":"2","x":2.91,"y":34.7},{"s":"2","x":2.94,"y":35},{"s":"2","x":2.96,"y":35.2},{"s":"2","x":3.0,"y":36},{"s":"2","x":3.04,"y":37.2},{"s":"2","x":3.08,"y":37.9},{"s":"2","x":3.12,"y":39},{"s":"2","x":3.15,"y":40.1},{"s":"2","x":3.19,"y":41},{"s":"2","x":3.22,"y":41.9},{"s":"2","x":3.25,"y":42.6},{"s":"2","x":3.28,"y":43.3},{"s":"2","x":3.32,"y":43.6},{"s":"2","x":3.35,"y":43.8},{"s":"2","x":3.39,"y":44.2},{"s":"2","x":3.42,"y":44.6},{"s":"2","x":3.46,"y":44.9},{"s":"2","x":3.49,"y":45.1},{"s":"2","x":3.53,"y":45.3},{"s":"2","x":3.56,"y":45.5},{"s":"2","x":3.6,"y":45.3},{"s":"2","x":3.63,"y":45.1},{"s":"2","x":3.66,"y":44.9},{"s":"2","x":3.69,"y":44.6},{"s":"2","x":3.73,"y":44.2},{"s":"2","x":3.77,"y":43.8},{"s":"2","x":3.81,"y":43.5},{"s":"2","x":3.84,"y":43.3},{"s":"2","x":3.87,"y":42.9},{"s":"2","x":3.9,"y":42.4},{"s":"2","x":3.94,"y":41.7},{"s":"2","x":3.97,"y":41},{"s":"2","x":4.01,"y":40.3},{"s":"2","x":4.04,"y":39.7},{"s":"2","x":4.08,"y":39.2},{"s":"2","x":4.11,"y":38.8},{"s":"2","x":4.15,"y":38.5},{"s":"2","x":4.18,"y":38.3},{"s":"2","x":4.22,"y":38.5},{"s":"2","x":4.25,"y":38.8},{"s":"2","x":4.29,"y":39},{"s":"2","x":4.32,"y":39.2},{"s":"2","x":4.36,"y":39.6},{"s":"2","x":4.39,"y":40.1},{"s":"2","x":4.43,"y":40.8},{"s":"2","x":4.46,"y":41.5},{"s":"2","x":4.49,"y":42},{"s":"2","x":4.52,"y":42.4},{"s":"2","x":4.56,"y":43.3},{"s":"2","x":4.59,"y":44.2},{"s":"2","x":4.62,"y":45.3},{"s":"2","x":4.66,"y":46.4},{"s":"2","x":4.69,"y":47},{"s":"2","x":4.72,"y":47.3},
{"s":"5","x":0.51,"y":59},{"s":"5","x":0.53,"y":57},{"s":"5","x":0.56,"y":60.4},{"s":"5","x":0.6,"y":58},{"s":"5","x":0.63,"y":59.5},{"s":"5","x":0.68,"y":60},{"s":"5","x":0.72,"y":58},{"s":"5","x":0.77,"y":59},{"s":"5","x":0.82,"y":60.5},{"s":"5","x":0.87,"y":61.5},{"s":"5","x":0.92,"y":62},{"s":"5","x":0.97,"y":62.5},{"s":"5","x":1.0,"y":62.5},{"s":"5","x":1.03,"y":61.7},{"s":"5","x":1.07,"y":61},{"s":"5","x":1.1,"y":60},{"s":"5","x":1.15,"y":58},{"s":"5","x":1.2,"y":56.5},{"s":"5","x":1.25,"y":55},{"s":"5","x":1.3,"y":53.5},{"s":"5","x":1.35,"y":52},{"s":"5","x":1.39,"y":50.5},{"s":"5","x":1.42,"y":48.5},{"s":"5","x":1.46,"y":46},{"s":"5","x":1.5,"y":42.5},{"s":"5","x":1.54,"y":38.8},{"s":"5","x":1.58,"y":37.5},{"s":"5","x":1.61,"y":37},{"s":"5","x":1.65,"y":37.1},{"s":"5","x":1.68,"y":37.4},{"s":"5","x":1.72,"y":38.3},{"s":"5","x":1.77,"y":39.7},{"s":"5","x":1.82,"y":41.5},{"s":"5","x":1.87,"y":43.3},{"s":"5","x":1.92,"y":44.2},{"s":"5","x":1.98,"y":45.1},{"s":"5","x":2.03,"y":46.5},{"s":"5","x":2.08,"y":47.8},{"s":"5","x":2.12,"y":49},{"s":"5","x":2.16,"y":50},{"s":"5","x":2.2,"y":50.5},{"s":"5","x":2.23,"y":50.9},{"s":"5","x":2.27,"y":50.7},{"s":"5","x":2.3,"y":50.5},{"s":"5","x":2.35,"y":49.2},{"s":"5","x":2.39,"y":47.8},{"s":"5","x":2.43,"y":46},{"s":"5","x":2.47,"y":44.2},{"s":"5","x":2.5,"y":42.4},{"s":"5","x":2.53,"y":40.6},{"s":"5","x":2.57,"y":39.7},{"s":"5","x":2.6,"y":38.8},{"s":"5","x":2.65,"y":38.1},{"s":"5","x":2.7,"y":37.4},{"s":"5","x":2.74,"y":35.8},{"s":"5","x":2.77,"y":34.3},{"s":"5","x":2.8,"y":33.8},{"s":"5","x":2.84,"y":33.4},{"s":"5","x":2.88,"y":33.1},{"s":"5","x":2.92,"y":32.9},{"s":"5","x":2.97,"y":33.1},{"s":"5","x":3.01,"y":33.4},{"s":"5","x":3.06,"y":33.6},{"s":"5","x":3.11,"y":33.8},{"s":"5","x":3.16,"y":34.5},{"s":"5","x":3.22,"y":35.2},{"s":"5","x":3.27,"y":35.8},{"s":"5","x":3.32,"y":36.5},{"s":"5","x":3.37,"y":37.2},{"s":"5","x":3.42,"y":37.9},{"s":"5","x":3.47,"y":38.1},{"s":"5","x":3.53,"y":38.3},{"s":"5","x":3.58,"y":38.1},{"s":"5","x":3.63,"y":37.9},{"s":"5","x":3.7,"y":37.5},{"s":"5","x":3.77,"y":37},{"s":"5","x":3.82,"y":38},{"s":"5","x":3.87,"y":39.2},{"s":"5","x":3.92,"y":38.3},{"s":"5","x":3.97,"y":37.4},{"s":"5","x":4.02,"y":37.2},{"s":"5","x":4.08,"y":37},{"s":"5","x":4.13,"y":37},{"s":"5","x":4.18,"y":37},{"s":"5","x":4.23,"y":37.2},{"s":"5","x":4.28,"y":37.4},{"s":"5","x":4.33,"y":37.6},{"s":"5","x":4.39,"y":37.9},{"s":"5","x":4.44,"y":38.3},{"s":"5","x":4.49,"y":38.8},{"s":"5","x":4.54,"y":39.2},{"s":"5","x":4.59,"y":39.7},{"s":"5","x":4.64,"y":40.3},{"s":"5","x":4.7,"y":41},{"s":"5","x":4.73,"y":42.4},
{"s":"10","x":0.51,"y":52.3},{"s":"10","x":0.53,"y":54},{"s":"10","x":0.55,"y":55.9},{"s":"10","x":0.58,"y":56.5},{"s":"10","x":0.61,"y":57.7},{"s":"10","x":0.65,"y":57},{"s":"10","x":0.7,"y":57.5},{"s":"10","x":0.75,"y":58.5},{"s":"10","x":0.8,"y":59.5},{"s":"10","x":0.85,"y":60.5},{"s":"10","x":0.9,"y":61.5},{"s":"10","x":0.95,"y":62},{"s":"10","x":1.0,"y":62.3},{"s":"10","x":1.03,"y":62},{"s":"10","x":1.07,"y":61},{"s":"10","x":1.1,"y":60},{"s":"10","x":1.15,"y":58.5},{"s":"10","x":1.2,"y":57},{"s":"10","x":1.25,"y":55},{"s":"10","x":1.3,"y":53},{"s":"10","x":1.35,"y":50.5},{"s":"10","x":1.39,"y":48},{"s":"10","x":1.43,"y":45},{"s":"10","x":1.47,"y":41.5},{"s":"10","x":1.51,"y":38},{"s":"10","x":1.55,"y":35.5},{"s":"10","x":1.59,"y":34.5},{"s":"10","x":1.62,"y":34.5},{"s":"10","x":1.66,"y":34.8},{"s":"10","x":1.7,"y":35.5},{"s":"10","x":1.75,"y":37},{"s":"10","x":1.8,"y":38.5},{"s":"10","x":1.87,"y":40.6},{"s":"10","x":1.93,"y":42.5},{"s":"10","x":1.98,"y":44.5},{"s":"10","x":2.03,"y":45.2},{"s":"10","x":2.08,"y":46},{"s":"10","x":2.13,"y":47.5},{"s":"10","x":2.18,"y":48.5},{"s":"10","x":2.22,"y":49.1},{"s":"10","x":2.27,"y":49},{"s":"10","x":2.32,"y":48.7},{"s":"10","x":2.37,"y":47},{"s":"10","x":2.42,"y":45.5},{"s":"10","x":2.46,"y":44.2},{"s":"10","x":2.5,"y":42.5},{"s":"10","x":2.55,"y":40},{"s":"10","x":2.6,"y":38.8},{"s":"10","x":2.65,"y":37.8},{"s":"10","x":2.69,"y":37},{"s":"10","x":2.73,"y":36.5},{"s":"10","x":2.77,"y":35},{"s":"10","x":2.8,"y":34},{"s":"10","x":2.84,"y":32.9},{"s":"10","x":2.88,"y":32.3},{"s":"10","x":2.92,"y":31.9},{"s":"10","x":2.97,"y":31.6},{"s":"10","x":3.02,"y":31.9},{"s":"10","x":3.06,"y":32.3},{"s":"10","x":3.11,"y":32.9},{"s":"10","x":3.16,"y":33.5},{"s":"10","x":3.21,"y":34.1},{"s":"10","x":3.25,"y":34.3},{"s":"10","x":3.3,"y":34.9},{"s":"10","x":3.35,"y":35.4},{"s":"10","x":3.39,"y":35.6},{"s":"10","x":3.44,"y":36},{"s":"10","x":3.49,"y":36.3},{"s":"10","x":3.53,"y":36.5},{"s":"10","x":3.6,"y":36.5},{"s":"10","x":3.66,"y":36.5},{"s":"10","x":3.73,"y":36.3},{"s":"10","x":3.8,"y":36.1},{"s":"10","x":3.87,"y":35.6},{"s":"10","x":3.94,"y":35.2},{"s":"10","x":4.01,"y":35.4},{"s":"10","x":4.08,"y":35.6},{"s":"10","x":4.15,"y":35.6},{"s":"10","x":4.22,"y":35.6},{"s":"10","x":4.28,"y":36},{"s":"10","x":4.35,"y":36.5},{"s":"10","x":4.42,"y":36.9},{"s":"10","x":4.49,"y":37.4},{"s":"10","x":4.56,"y":38.1},{"s":"10","x":4.63,"y":38.8},{"s":"10","x":4.68,"y":39.2},{"s":"10","x":4.73,"y":39.7},
{"s":"20","x":0.51,"y":55.9},{"s":"20","x":0.53,"y":58},{"s":"20","x":0.55,"y":59},{"s":"20","x":0.58,"y":55},{"s":"20","x":0.6,"y":56.5},{"s":"20","x":0.63,"y":57.7},{"s":"20","x":0.66,"y":58},{"s":"20","x":0.7,"y":58.1},{"s":"20","x":0.73,"y":58.8},{"s":"20","x":0.77,"y":59.5},{"s":"20","x":0.8,"y":60.5},{"s":"20","x":0.84,"y":61.7},{"s":"20","x":0.88,"y":62.6},{"s":"20","x":0.91,"y":63.5},{"s":"20","x":0.95,"y":64.8},{"s":"20","x":0.98,"y":65.8},{"s":"20","x":1.01,"y":66},{"s":"20","x":1.03,"y":66.3},{"s":"20","x":1.06,"y":65.6},{"s":"20","x":1.08,"y":64.9},{"s":"20","x":1.12,"y":63.8},{"s":"20","x":1.15,"y":62.6},{"s":"20","x":1.19,"y":61.3},{"s":"20","x":1.22,"y":60},{"s":"20","x":1.26,"y":58.2},{"s":"20","x":1.29,"y":56.3},{"s":"20","x":1.32,"y":54},{"s":"20","x":1.35,"y":51.4},{"s":"20","x":1.39,"y":47.5},{"s":"20","x":1.42,"y":44.2},{"s":"20","x":1.46,"y":41.3},{"s":"20","x":1.49,"y":38.8},{"s":"20","x":1.53,"y":36.5},{"s":"20","x":1.56,"y":34.3},{"s":"20","x":1.6,"y":32.8},{"s":"20","x":1.63,"y":31.6},{"s":"20","x":1.68,"y":30.8},{"s":"20","x":1.72,"y":30.2},{"s":"20","x":1.76,"y":30.3},{"s":"20","x":1.8,"y":30.7},{"s":"20","x":1.84,"y":31.8},{"s":"20","x":1.87,"y":32.9},{"s":"20","x":1.91,"y":34},{"s":"20","x":1.94,"y":35.2},{"s":"20","x":1.99,"y":37},{"s":"20","x":2.04,"y":38.8},{"s":"20","x":2.09,"y":40.6},{"s":"20","x":2.15,"y":42.4},{"s":"20","x":2.19,"y":43.3},{"s":"20","x":2.23,"y":44.2},{"s":"20","x":2.27,"y":44.7},{"s":"20","x":2.3,"y":45.1},{"s":"20","x":2.35,"y":44.5},{"s":"20","x":2.39,"y":43.8},{"s":"20","x":2.43,"y":42.6},{"s":"20","x":2.46,"y":41.5},{"s":"20","x":2.5,"y":40.6},{"s":"20","x":2.53,"y":39.7},{"s":"20","x":2.57,"y":39.2},{"s":"20","x":2.6,"y":38.8},{"s":"20","x":2.63,"y":37.6},{"s":"20","x":2.66,"y":36.5},{"s":"20","x":2.7,"y":35.8},{"s":"20","x":2.73,"y":35.2},{"s":"20","x":2.77,"y":34},{"s":"20","x":2.8,"y":32.9},{"s":"20","x":2.85,"y":32},{"s":"20","x":2.91,"y":31.1},{"s":"20","x":2.96,"y":30.6},{"s":"20","x":3.01,"y":30.2},{"s":"20","x":3.06,"y":30.9},{"s":"20","x":3.11,"y":31.6},{"s":"20","x":3.16,"y":32.5},{"s":"20","x":3.22,"y":33.4},{"s":"20","x":3.27,"y":33.8},{"s":"20","x":3.32,"y":34.3},{"s":"20","x":3.37,"y":34.8},{"s":"20","x":3.42,"y":35.2},{"s":"20","x":3.47,"y":35.4},{"s":"20","x":3.53,"y":35.6},{"s":"20","x":3.58,"y":35},{"s":"20","x":3.63,"y":34.3},{"s":"20","x":3.68,"y":33.8},{"s":"20","x":3.73,"y":33.4},{"s":"20","x":3.78,"y":33.1},{"s":"20","x":3.84,"y":32.9},{"s":"20","x":3.89,"y":32.4},{"s":"20","x":3.94,"y":32},{"s":"20","x":3.99,"y":32.2},{"s":"20","x":4.04,"y":32.5},{"s":"20","x":4.09,"y":32.9},{"s":"20","x":4.15,"y":33.4},{"s":"20","x":4.2,"y":33.8},{"s":"20","x":4.25,"y":34.3},{"s":"20","x":4.3,"y":35.2},{"s":"20","x":4.35,"y":36.1},{"s":"20","x":4.41,"y":37.2},{"s":"20","x":4.46,"y":38.3},{"s":"20","x":4.51,"y":39.6},{"s":"20","x":4.56,"y":41},{"s":"20","x":4.61,"y":42.2},{"s":"20","x":4.66,"y":43.3},{"s":"20","x":4.7,"y":44.2},{"s":"20","x":4.73,"y":45.1},
{"s":"100","x":0.51,"y":47.8},{"s":"100","x":0.52,"y":40},{"s":"100","x":0.53,"y":40.6},{"s":"100","x":0.55,"y":51.4},{"s":"100","x":0.56,"y":47.3},{"s":"100","x":0.58,"y":45.5},{"s":"100","x":0.6,"y":44.2},{"s":"100","x":0.63,"y":46},{"s":"100","x":0.66,"y":49},{"s":"100","x":0.68,"y":51.4},{"s":"100","x":0.72,"y":53.2},{"s":"100","x":0.77,"y":54.5},{"s":"100","x":0.8,"y":55.6},{"s":"100","x":0.84,"y":56.8},{"s":"100","x":0.88,"y":58.2},{"s":"100","x":0.91,"y":59.5},{"s":"100","x":0.95,"y":60.4},{"s":"100","x":0.98,"y":61.3},{"s":"100","x":1.03,"y":61.7},{"s":"100","x":1.07,"y":61},{"s":"100","x":1.1,"y":60.4},{"s":"100","x":1.13,"y":59.3},{"s":"100","x":1.17,"y":58.1},{"s":"100","x":1.2,"y":57},{"s":"100","x":1.23,"y":55.9},{"s":"100","x":1.26,"y":54.4},{"s":"100","x":1.29,"y":52.8},{"s":"100","x":1.32,"y":50.8},{"s":"100","x":1.34,"y":48.7},{"s":"100","x":1.37,"y":46.5},{"s":"100","x":1.39,"y":44.2},{"s":"100","x":1.42,"y":42},{"s":"100","x":1.44,"y":39.7},{"s":"100","x":1.47,"y":37.5},{"s":"100","x":1.49,"y":35.2},{"s":"100","x":1.52,"y":33.4},{"s":"100","x":1.54,"y":31.6},{"s":"100","x":1.57,"y":29.8},{"s":"100","x":1.6,"y":28},{"s":"100","x":1.63,"y":27},{"s":"100","x":1.65,"y":26.2},{"s":"100","x":1.69,"y":26.2},{"s":"100","x":1.72,"y":26.2},{"s":"100","x":1.76,"y":25.5},{"s":"100","x":1.79,"y":24.8},{"s":"100","x":1.82,"y":26},{"s":"100","x":1.85,"y":27.1},{"s":"100","x":1.89,"y":27.8},{"s":"100","x":1.92,"y":28.4},{"s":"100","x":1.96,"y":29.1},{"s":"100","x":1.99,"y":29.8},{"s":"100","x":2.03,"y":30.7},{"s":"100","x":2.06,"y":31.6},{"s":"100","x":2.1,"y":32.3},{"s":"100","x":2.13,"y":32.9},{"s":"100","x":2.17,"y":33.4},{"s":"100","x":2.2,"y":33.8},{"s":"100","x":2.24,"y":34.3},{"s":"100","x":2.27,"y":34.7},{"s":"100","x":2.31,"y":35},{"s":"100","x":2.34,"y":35.2},{"s":"100","x":2.38,"y":35.7},{"s":"100","x":2.41,"y":36.1},{"s":"100","x":2.44,"y":35.6},{"s":"100","x":2.46,"y":35.2},{"s":"100","x":2.49,"y":34.3},{"s":"100","x":2.51,"y":33.4},{"s":"100","x":2.54,"y":33.1},{"s":"100","x":2.56,"y":32.9},{"s":"100","x":2.73,"y":33.4},{"s":"100","x":2.77,"y":32.5},{"s":"100","x":2.8,"y":31.3},{"s":"100","x":2.82,"y":30.2},{"s":"100","x":2.85,"y":29.5},{"s":"100","x":2.87,"y":28.9},{"s":"100","x":2.9,"y":28.4},{"s":"100","x":2.94,"y":28},{"s":"100","x":2.97,"y":27.7},{"s":"100","x":3.01,"y":27.5},{"s":"100","x":3.05,"y":27.5},{"s":"100","x":3.08,"y":27.5},{"s":"100","x":3.12,"y":27.7},{"s":"100","x":3.15,"y":28},{"s":"100","x":3.19,"y":28.4},{"s":"100","x":3.22,"y":28.9},{"s":"100","x":3.26,"y":29.1},{"s":"100","x":3.29,"y":29.3},{"s":"100","x":3.32,"y":29.5},{"s":"100","x":3.35,"y":29.8},{"s":"100","x":3.39,"y":30},{"s":"100","x":3.42,"y":30.2},{"s":"100","x":3.46,"y":30},{"s":"100","x":3.49,"y":29.8},{"s":"100","x":3.53,"y":29.3},{"s":"100","x":3.56,"y":28.9},{"s":"100","x":3.6,"y":28.6},{"s":"100","x":3.63,"y":28.4},{"s":"100","x":3.67,"y":28.2},{"s":"100","x":3.7,"y":28},{"s":"100","x":3.74,"y":28.2},{"s":"100","x":3.77,"y":28.4},{"s":"100","x":3.81,"y":28.2},{"s":"100","x":3.84,"y":28},{"s":"100","x":3.87,"y":26.5},{"s":"100","x":3.9,"y":25.3},{"s":"100","x":3.94,"y":26.5},{"s":"100","x":3.97,"y":28},{"s":"100","x":4.01,"y":28.4},{"s":"100","x":4.04,"y":28.9},{"s":"100","x":4.08,"y":29.3},{"s":"100","x":4.11,"y":29.8},{"s":"100","x":4.15,"y":30.2},{"s":"100","x":4.18,"y":30.7},{"s":"100","x":4.22,"y":31.5},{"s":"100","x":4.25,"y":32.5},{"s":"100","x":4.29,"y":33.8},{"s":"100","x":4.32,"y":35.2},{"s":"100","x":4.36,"y":36.5},{"s":"100","x":4.39,"y":37.9},{"s":"100","x":4.43,"y":38.8},{"s":"100","x":4.46,"y":39.7},{"s":"100","x":4.49,"y":40.8},{"s":"100","x":4.52,"y":41.9},{"s":"100","x":4.56,"y":43},{"s":"100","x":4.59,"y":44.2},{"s":"100","x":4.62,"y":45.3},{"s":"100","x":4.66,"y":46.4},{"s":"100","x":4.7,"y":47.5},{"s":"100","x":4.74,"y":48.7}
],
"headA": [{"t":"Te  on-on-1-mm-SiO₂ at 35°","x":5.15,"y":94.8}],
"headB": [{"t":"PS-on-5-mm-SiO₂ at 30°","x":5.22,"y":94.1}],
"dropA": [{"t":"Drop","x":4.66,"y":78.4},{"t":"number","x":4.66,"y":72.9}],
"dropB": [{"t":"Drop","x":4.68,"y":68},{"t":"number","x":4.68,"y":62.6}],
"labA": [{"s":"1","x":4.85,"y":67},{"s":"2","x":4.84,"y":52.9},{"s":"100","x":4.78,"y":47.5},{"s":"20","x":4.7,"y":29.7},{"s":"10","x":4.7,"y":24.8},{"s":"5","x":4.7,"y":19.8}],
"labB": [{"s":"2","x":2.13,"y":66},{"s":"100","x":4.86,"y":56.1},{"s":"20","x":4.86,"y":49.8},{"s":"10","x":4.86,"y":43.7},{"s":"5","x":4.86,"y":37.4},{"s":"1","x":4.86,"y":21.2}]
},
"hconcat": [
{
  "width": 480, "height": 389,
  "title": {"text": "a", "dx": -67},
  "encoding": {
    "x": {"field": "x", "type": "quantitative", "scale": {"domain": [0.43, 5.29], "nice": false, "zero": false}, "axis": {"values": [1, 2, 3, 4, 5], "title": "Slide length (cm)"}},
    "y": {"field": "y", "type": "quantitative", "scale": {"domain": [-5, 100], "nice": false, "zero": false}, "axis": {"values": [0, 20, 40, 60, 80, 100], "title": "Extra force (μN)"}}
  },
  "layer": [
    {"data": {"name": "a"}, "mark": {"type": "line", "strokeWidth": 1, "point": {"filled": true, "size": 62, "opacity": 1}},
     "encoding": {"color": {"field": "s", "type": "nominal", "scale": {"domain": ["1", "2", "5", "10", "20", "100"], "range": ["#f43d3d", "#e4aa30", "#a2e22c", "#12d48a", "#0ea5f7", "#2540f2"]}, "legend": null}}},
    {"data": {"values": [{"v": 100}]}, "mark": {"type": "rule", "color": "#333333", "strokeWidth": 1.3}, "encoding": {"y": {"field": "v", "type": "quantitative"}, "x": null}},
    {"data": {"values": [{"v": 5.29}]}, "mark": {"type": "rule", "color": "#333333", "strokeWidth": 1.3}, "encoding": {"x": {"field": "v", "type": "quantitative"}, "y": null}},
    {"data": {"name": "headA"}, "mark": {"type": "text", "align": "right", "baseline": "middle", "fontSize": 17, "color": "#111111"}, "encoding": {"text": {"field": "t"}}},
    {"data": {"name": "dropA"}, "mark": {"type": "text", "align": "left", "baseline": "middle", "fontSize": 17, "color": "#111111"}, "encoding": {"text": {"field": "t"}}},
    {"data": {"name": "labA"}, "mark": {"type": "text", "align": "left", "baseline": "middle", "fontSize": 16.5}, "encoding": {"text": {"field": "s"}, "color": {"field": "s", "type": "nominal", "legend": null}}}
  ]
},
{
  "width": 477, "height": 389,
  "title": {"text": "b", "dx": -66},
  "encoding": {
    "x": {"field": "x", "type": "quantitative", "scale": {"domain": [0.446, 5.37], "nice": false, "zero": false}, "axis": {"values": [1, 2, 3, 4, 5], "title": "Slide length (cm)"}},
    "y": {"field": "y", "type": "quantitative", "scale": {"domain": [-5, 100], "nice": false, "zero": false}, "axis": {"values": [0, 20, 40, 60, 80, 100], "title": "Extra force (μN)"}}
  },
  "layer": [
    {"data": {"name": "b"}, "mark": {"type": "line", "strokeWidth": 1, "point": {"filled": true, "size": 62, "opacity": 1}},
     "encoding": {"color": {"field": "s", "type": "nominal", "scale": {"domain": ["1", "2", "5", "10", "20", "100"], "range": ["#f43d3d", "#e4aa30", "#a2e22c", "#12d48a", "#0ea5f7", "#2540f2"]}, "legend": null}}},
    {"data": {"values": [{"v": 100}]}, "mark": {"type": "rule", "color": "#333333", "strokeWidth": 1.3}, "encoding": {"y": {"field": "v", "type": "quantitative"}, "x": null}},
    {"data": {"name": "headB"}, "mark": {"type": "text", "align": "right", "baseline": "middle", "fontSize": 17, "color": "#111111"}, "encoding": {"text": {"field": "t"}}},
    {"data": {"name": "dropB"}, "mark": {"type": "text", "align": "left", "baseline": "middle", "fontSize": 16.5, "color": "#111111"}, "encoding": {"text": {"field": "t"}}},
    {"data": {"name": "labB"}, "mark": {"type": "text", "align": "left", "baseline": "middle", "fontSize": 16.5}, "encoding": {"text": {"field": "s"}, "color": {"field": "s", "type": "nominal", "legend": null}}}
  ]
}
]
}
